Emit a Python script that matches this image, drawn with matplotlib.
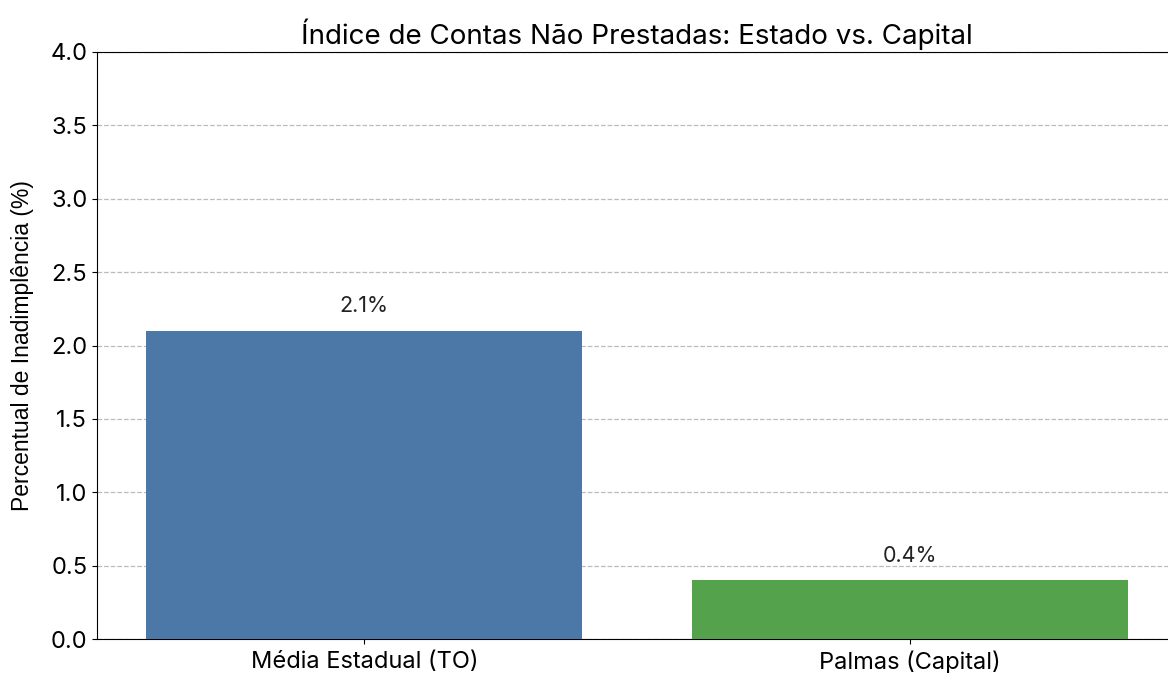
import matplotlib
matplotlib.use("Agg")
import matplotlib.pyplot as plt

categorias = ["Média Estadual (TO)", "Palmas (Capital)"]
valores = [2.1, 0.4]
cores = ["#4c78a8", "#54a24b"]
rotulos = ["2.1%", "0.4%"]

plt.rcParams['font.family'] = ['Inter', 'DejaVu Sans']

fig = plt.figure(figsize=(11.68, 6.73), dpi=100)
ax = fig.add_axes([97 / 1168, 34 / 673, 1080 / 1168, 587 / 673])

bars = ax.bar(categorias, valores, color=cores, width=0.8, zorder=3)
for b, t in zip(bars, rotulos):
    ax.text(b.get_x() + b.get_width() / 2, b.get_height() + 0.1, t,
            ha='center', va='bottom', fontsize=15.5, color='#222222')

ax.set_ylim(0, 4.0)
ax.set_xlim(-0.49, 1.49)
ax.set_title("Índice de Contas Não Prestadas: Estado vs. Capital", fontsize=20, pad=6)
ax.set_ylabel("Percentual de Inadimplência (%)", fontsize=16.5,
              family=['Liberation Sans', 'DejaVu Sans'], labelpad=12)
ax.tick_params(axis='both', labelsize=17)
ax.tick_params(axis='x', pad=5)
ax.yaxis.grid(True, linestyle='--', color='#bbbbbb', linewidth=0.9, zorder=0)
ax.set_axisbelow(True)

fig.savefig("out.png", dpi=100)
